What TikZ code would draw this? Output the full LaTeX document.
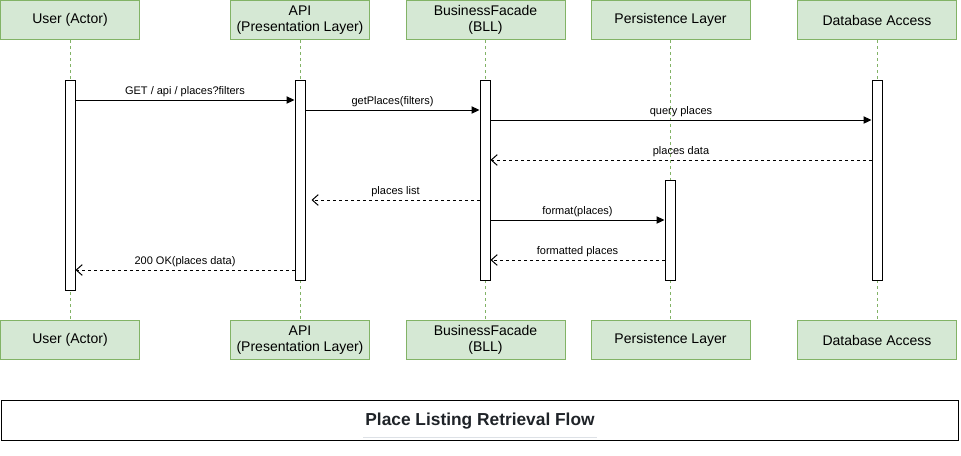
\documentclass[tikz,border=0pt]{standalone}
\usepackage{fontspec}
\setmainfont{Liberation Sans}
\usetikzlibrary{arrows.meta}
\definecolor{boxfill}{HTML}{D5E8D4}
\definecolor{boxline}{HTML}{82B366}
\definecolor{uline}{HTML}{DDE1E6}
\definecolor{titlec}{HTML}{1F2328}
\begin{document}
\begin{tikzpicture}[x=0.75pt,y=-0.75pt,
 part/.style={draw=boxline,fill=boxfill,line width=0.75pt,minimum height=29.25pt,align=center,font=\fontsize{10.5pt}{12.2pt}\selectfont,inner sep=0pt},
 bar/.style={draw=black,fill=white,line width=0.75pt,minimum width=7.5pt,inner sep=0pt},
 life/.style={draw=boxline,dash pattern=on 2.25pt off 2.25pt,line width=0.75pt},
 call/.style={draw=black,line width=0.75pt,-{Triangle[length=6pt,width=5.5pt]}},
 ret/.style={draw=black,line width=0.75pt,dash pattern=on 2.25pt off 2.25pt,-{Straight Barb[length=4.5pt,width=8pt]}},
 lbl/.style={font=\fontsize{8.25pt}{9.5pt}\selectfont,inner sep=0pt}]
\useasboundingbox (0,0) rectangle (961,455);

% top participants
\node[part,minimum width=104.25pt] (u1) at (70,20) {User (Actor)};
\node[part,minimum width=104.25pt] (a1) at (300,20) {API\\(Presentation Layer)};
\node[part,minimum width=119.25pt] (b1) at (485.5,20) {BusinessFacade\\(BLL)};
\node[part,minimum width=119.25pt] (p1) at (670.5,20) {Persistence Layer};
\node[part,minimum width=119.25pt] (d1) at (877,20) {Database Access};
% bottom participants
\node[part,minimum width=104.25pt] (u2) at (70,340) {User (Actor)};
\node[part,minimum width=104.25pt] (a2) at (300,340) {API\\(Presentation Layer)};
\node[part,minimum width=119.25pt] (b2) at (485.5,340) {BusinessFacade\\(BLL)};
\node[part,minimum width=119.25pt] (p2) at (670.5,340) {Persistence Layer};
\node[part,minimum width=119.25pt] (d2) at (877,340) {Database Access};

% lifelines
\draw[life] (u1) -- (u2);
\draw[life] (a1) -- (a2);
\draw[life] (b1) -- (b2);
\draw[life] (p1) -- (p2);
\draw[life] (d1) -- (d2);

% activation bars
\node[bar,minimum height=157.5pt] (ub) at (70,185) {};
\node[bar,minimum height=150pt] (ab) at (300,180) {};
\node[bar,minimum height=150pt] (bb) at (485,180) {};
\node[bar,minimum height=75pt] (pb) at (670,230) {};
\node[bar,minimum height=150pt] (db) at (877,180) {};

% messages
\draw[call] (ub.east |- 0,100) -- node[lbl,above=2pt] {GET / api / places?filters} (ab.west |- 0,100);
\draw[call] (ab.east |- 0,110) -- node[lbl,above=2pt] {getPlaces(filters)} (bb.west |- 0,110);
\draw[call] (bb.east |- 0,120) -- node[lbl,above=2pt] {query places} (db.west |- 0,120);
\draw[ret] (db.west |- 0,160) -- node[lbl,above=2pt] {places data} (bb.east |- 0,160);
\draw[ret] (bb.west |- 0,200) -- node[lbl,above=2pt] {places list} ([xshift=4.5pt]ab.east |- 0,200);
\draw[call] (bb.east |- 0,220) -- node[lbl,above=2pt] {format(places)} (pb.west |- 0,220);
\draw[ret] (pb.west |- 0,260) -- node[lbl,above=2pt] {formatted places} (bb.east |- 0,260);
\draw[ret] (ab.west |- 0,270) -- node[lbl,above=2pt] {200 OK(places data)} (ub.east |- 0,270);

% title
\node[draw=black,line width=0.75pt,minimum width=717.75pt,minimum height=30pt,inner sep=0pt] (tb) at (479.5,420) {};
\node[font=\bfseries\fontsize{13pt}{15pt}\selectfont,text=titlec,inner sep=0pt] (tt) at (480,421) {Place Listing Retrieval Flow};
\draw[uline,line width=1pt] (363,437.5) -- (597,437.5);
\end{tikzpicture}
\end{document}
